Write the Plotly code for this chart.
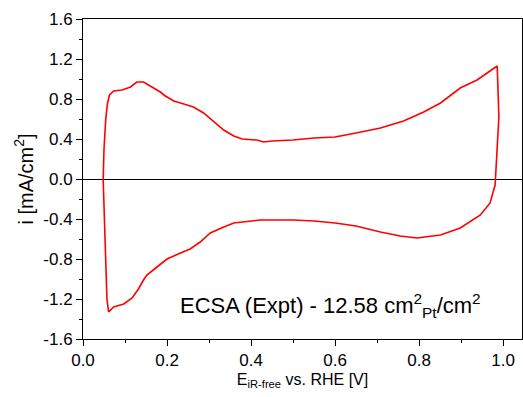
import plotly.graph_objects as go

# Anodic (forward) sweep: potential [V] and current density [mA/cm2]
e_anodic = [0.048, 0.050, 0.054, 0.058, 0.063, 0.073, 0.093, 0.113, 0.128, 0.144,
            0.164, 0.184, 0.196, 0.216, 0.240, 0.263, 0.287, 0.311, 0.335, 0.359,
            0.379, 0.414, 0.430, 0.450, 0.500, 0.550, 0.600, 0.650, 0.708, 0.763,
            0.811, 0.851, 0.898, 0.938, 0.986]
i_anodic = [0.00, 0.30, 0.59, 0.75, 0.84, 0.88, 0.89, 0.92, 0.97, 0.97,
            0.92, 0.87, 0.83, 0.78, 0.75, 0.72, 0.66, 0.57, 0.49, 0.43,
            0.40, 0.39, 0.37, 0.38, 0.39, 0.41, 0.42, 0.46, 0.51, 0.58,
            0.67, 0.76, 0.91, 0.99, 1.13]

# Cathodic (reverse) sweep
e_cathodic = [0.990, 0.986, 0.984, 0.981, 0.975, 0.969, 0.946, 0.898, 0.851, 0.795,
              0.755, 0.708, 0.650, 0.600, 0.550, 0.500, 0.422, 0.398, 0.359, 0.335,
              0.303, 0.279, 0.255, 0.232, 0.200, 0.176, 0.152, 0.144, 0.132, 0.117,
              0.097, 0.073, 0.061, 0.057, 0.054, 0.051, 0.049, 0.048]
i_cathodic = [0.62, 0.30, 0.06, -0.06, -0.15, -0.24, -0.36, -0.49, -0.56, -0.59,
              -0.57, -0.53, -0.47, -0.44, -0.42, -0.41, -0.41, -0.42, -0.44, -0.48,
              -0.54, -0.63, -0.70, -0.74, -0.80, -0.88, -0.96, -1.01, -1.10, -1.19,
              -1.25, -1.28, -1.33, -1.20, -0.80, -0.40, -0.18, 0.00]

y_tickvals = [-1.6, -1.2, -0.8, -0.4, 0.0, 0.4, 0.8, 1.2, 1.6]
y_ticktext = ["-1.6", "-1.2", "-0.8", "-0.4", "0.0", "0.4", "0.8", "1.2", "1.6"]
x_tickvals = [0.0, 0.2, 0.4, 0.6, 0.8, 1.0]
x_ticktext = ["0.0", "0.2", "0.4", "0.6", "0.8", "1.0"]

font_family = "Liberation Sans, Arial, sans-serif"

fig = go.Figure()
fig.add_trace(go.Scatter(
    x=e_anodic + e_cathodic,
    y=i_anodic + i_cathodic,
    mode="lines",
    line=dict(color="#ff0000", width=1.6),
    showlegend=False,
    hoverinfo="skip",
))

fig.add_annotation(
    x=0.226, y=-1.26, xref="x", yref="y",
    xanchor="left", yanchor="middle",
    text="ECSA (Expt) - 12.58 cm<sup>2</sup><sub>Pt</sub>/cm<sup>2</sup>",
    showarrow=False,
    font=dict(family=font_family, size=22, color="black"),
)

fig.update_layout(
    width=523, height=397,
    margin=dict(l=83, r=1, t=19, b=58),
    plot_bgcolor="white", paper_bgcolor="white",
    font=dict(family=font_family, color="black"),
    xaxis=dict(
        range=[0, 1.045],
        automargin=False,
        tickvals=x_tickvals, ticktext=x_ticktext,
        ticks="outside", ticklen=6, tickwidth=1, tickcolor="black",
        minor=dict(dtick=0.1, tick0=0, ticks="outside", ticklen=3, tickcolor="black"),
        showline=True, linecolor="black", linewidth=1, mirror=True,
        showgrid=False, zeroline=False,
        tickfont=dict(size=17),
        title=dict(text="E<sub>iR-free</sub> vs. RHE [V]", font=dict(size=16), standoff=4),
    ),
    yaxis=dict(
        range=[-1.6, 1.6],
        automargin=False,
        tickvals=y_tickvals, ticktext=y_ticktext,
        ticks="outside", ticklen=6, tickwidth=1, tickcolor="black",
        minor=dict(dtick=0.2, tick0=0, ticks="outside", ticklen=3, tickcolor="black"),
        showline=True, linecolor="black", linewidth=1, mirror=True,
        showgrid=False,
        zeroline=True, zerolinecolor="black", zerolinewidth=1.2,
        tickfont=dict(size=17),
        title=dict(text="i [mA/cm<sup>2</sup>]", font=dict(size=20), standoff=4),
    ),
)

fig.write_html(
    "out.html",
    config={"displayModeBar": False},
    post_script="document.body.style.margin='0';document.body.style.overflow='hidden';",
)
